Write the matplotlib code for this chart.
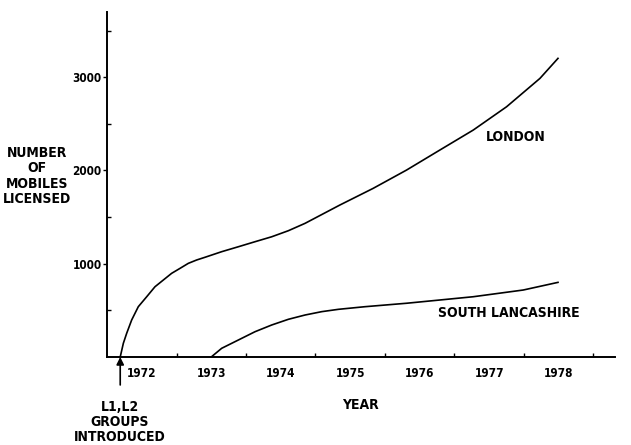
import matplotlib
matplotlib.use("Agg")
import matplotlib.pyplot as plt

# ==========================================
# DATA
# ==========================================

london_year = [1972.19, 1972.235, 1972.283, 1972.355, 1972.45, 1972.571,
               1972.69, 1972.81, 1972.93, 1973.05, 1973.17, 1973.29,
               1973.41, 1973.65, 1973.89, 1974.13, 1974.37, 1974.61,
               1974.85, 1975.35, 1975.83, 1976.31, 1976.79, 1977.27,
               1977.75, 1978.23, 1978.49]
london_mobiles = [0, 147, 254, 397, 539, 646,
                  753, 825, 897, 950, 1004, 1040,
                  1069, 1129, 1182, 1236, 1289, 1354,
                  1433, 1629, 1808, 2004, 2219, 2433,
                  2683, 2987, 3202]

lancs_year = [1973.50, 1973.65, 1973.89, 1974.13, 1974.37, 1974.61,
              1974.85, 1975.09, 1975.33, 1975.71, 1976.31, 1977.27,
              1977.99, 1978.49]
lancs_mobiles = [0, 93, 182, 271, 343, 404,
                 450, 486, 511, 539, 576, 646,
                 718, 800]

years = [1972, 1973, 1974, 1975, 1976, 1977, 1978]
year_edges = [1973, 1974, 1975, 1976, 1977, 1978, 1979]
y_major = [1000, 2000, 3000]
y_minor = [500, 1500, 2500, 3500]

introduced_year = 1972.19

# ==========================================
# STYLE
# ==========================================

plt.rcParams["font.family"] = ["DejaVu Sans"]
plt.rcParams["font.stretch"] = "condensed"
plt.rcParams["font.weight"] = "bold"
plt.rcParams["font.size"] = 10

fig = plt.figure(figsize=(6.31, 4.45), dpi=100)
ax = fig.add_axes([0.1696, 0.1978, 0.805, 0.775])

ax.plot(london_year, london_mobiles, color="black", lw=1.2)
ax.plot(lancs_year, lancs_mobiles, color="black", lw=1.2)

ax.set_xlim(1972.0, 1979.31)
ax.set_ylim(0, 3698)

for side in ["top", "right"]:
    ax.spines[side].set_visible(False)
for side in ["left", "bottom"]:
    ax.spines[side].set_linewidth(1.4)

# x ticks at year boundaries, labels in the middle of each year
ax.set_xticks(year_edges)
ax.set_xticklabels([])
ax.tick_params(axis="x", which="major", direction="in", length=3, width=1)
ax.set_xticks([y + 0.5 for y in years], minor=True)
ax.set_xticklabels([str(y) for y in years], minor=True, fontsize=8.5)
ax.tick_params(axis="x", which="minor", length=0, pad=7)

ax.set_yticks(y_major)
ax.set_yticklabels([str(v) for v in y_major], fontsize=8.5)
ax.tick_params(axis="y", which="major", direction="out", length=3, width=1, pad=1)
ax.set_yticks(y_minor, minor=True)
ax.tick_params(axis="y", which="minor", direction="in", length=3, width=1)

# ==========================================
# LABELS
# ==========================================

ax.text(1977.88, 2358, "LONDON", ha="center", va="center")
ax.text(1977.78, 471, "SOUTH LANCASHIRE", ha="center", va="center")

fig.text(37 / 631, 1 - 176 / 445, "NUMBER\nOF\nMOBILES\nLICENSED",
         ha="center", va="center", linespacing=1.1)
fig.text(360 / 631, 1 - 405 / 445, "YEAR", ha="center", va="center")

ax.annotate("", xy=(introduced_year, 0), xycoords="data",
            xytext=(introduced_year, -300), textcoords="data",
            arrowprops=dict(arrowstyle="-|>", color="black", lw=1.2,
                            mutation_scale=11, shrinkA=0, shrinkB=0),
            annotation_clip=False)
fig.text(120 / 631, 1 - 422 / 445, "L1,L2\nGROUPS\nINTRODUCED",
         ha="center", va="center", linespacing=1.05)

fig.savefig("out.png", dpi=100)
